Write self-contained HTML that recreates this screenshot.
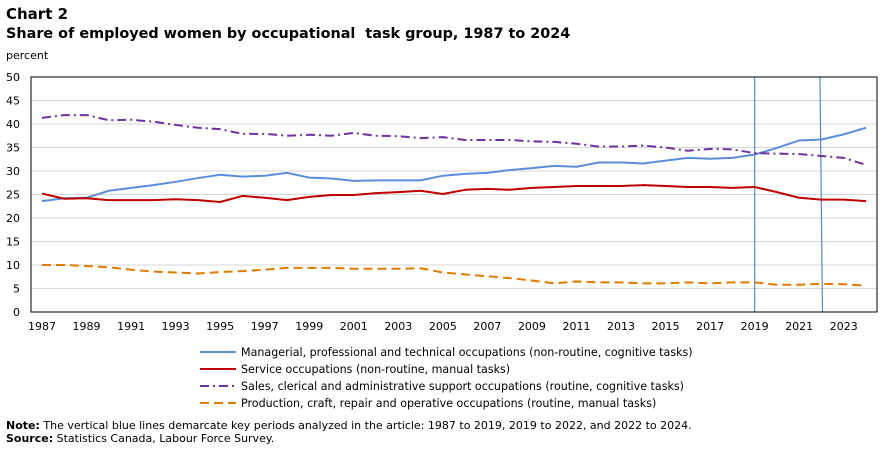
<!DOCTYPE html>
<html><head><meta charset="utf-8"><style>
body{margin:0;background:#fff;font-family:"Liberation Sans","DejaVu Sans",sans-serif;}
svg text{font-family:"DejaVu Sans","Liberation Sans",sans-serif;}
</style></head><body>
<svg id="c" width="889" height="449" xmlns="http://www.w3.org/2000/svg">
<text x="6" y="19" font-size="15" font-weight="bold">Chart 2</text>
<text x="6" y="38" font-size="14.4" font-weight="bold" xml:space="preserve">Share of employed women by occupational  task group, 1987 to 2024</text>
<text x="6" y="59" font-size="11">percent</text>
<g id="grid"></g><g id="marks"></g><g id="axes"></g>
<g id="legend"></g>
<text x="6" y="429" font-size="11"><tspan font-weight="bold">Note:</tspan> The vertical blue lines demarcate key periods analyzed in the article: 1987 to 2019, 2019 to 2022, and 2022 to 2024.</text>
<text x="6" y="442" font-size="11"><tspan font-weight="bold">Source:</tspan> Statistics Canada, Labour Force Survey.</text>
</svg>
<script>
const years=[];for(let y=1987;y<=2024;y++)years.push(y);
const managerial=[23.6,24.2,24.3,25.8,26.4,27.0,27.7,28.5,29.2,28.8,29.0,29.6,28.6,28.4,27.9,28.0,28.0,28.0,29.0,29.4,29.6,30.2,30.6,31.1,30.9,31.8,31.8,31.6,32.2,32.8,32.6,32.8,33.5,34.9,36.5,36.7,37.8,39.2];
const service=[25.2,24.1,24.2,23.8,23.8,23.8,24.0,23.8,23.4,24.7,24.3,23.8,24.5,24.9,24.9,25.3,25.5,25.8,25.1,26.0,26.2,26.0,26.4,26.6,26.8,26.8,26.8,27.0,26.8,26.6,26.6,26.4,26.6,25.5,24.3,23.9,23.9,23.6];
const sales=[41.3,41.9,41.9,40.8,40.9,40.5,39.8,39.2,38.9,37.9,37.9,37.5,37.7,37.5,38.1,37.5,37.4,37.0,37.2,36.6,36.6,36.6,36.3,36.2,35.8,35.2,35.2,35.4,35.0,34.3,34.7,34.6,33.8,33.7,33.6,33.2,32.8,31.3];
const production=[10.0,10.0,9.8,9.5,9.0,8.6,8.4,8.2,8.5,8.7,9.0,9.4,9.4,9.4,9.2,9.2,9.2,9.3,8.4,8.0,7.6,7.2,6.7,6.1,6.5,6.3,6.3,6.1,6.1,6.3,6.1,6.3,6.3,5.8,5.8,6.0,5.9,5.6];
const yTicks=[0,5,10,15,20,25,30,35,40,45,50];
const xTickYears=[1987,1989,1991,1993,1995,1997,1999,2001,2003,2005,2007,2009,2011,2013,2015,2017,2019,2021,2023];
const markerYears=[2019,2022];
const NS="http://www.w3.org/2000/svg";
const L=31,R=877,T=77,B=312,X0=42,X1=866;
const xs=y=>X0+(y-1987)*(X1-X0)/(2024-1987);
const ys=v=>B-(v/50)*(B-T);
function mk(t,a,p){const e=document.createElementNS(NS,t);for(const k in a)e.setAttribute(k,a[k]);p.appendChild(e);return e;}
const grid=document.getElementById('grid'),axes=document.getElementById('axes'),marks=document.getElementById('marks'),leg=document.getElementById('legend');
yTicks.forEach(v=>{
 if(v>0){const g=mk('line',{x1:L,x2:R,y1:ys(v),y2:ys(v),stroke:'#d6d6d6','stroke-width':1},grid);
 
 }
 const t=mk('text',{x:20,y:ys(v)+4,'font-size':11,'text-anchor':'end'},axes);t.textContent=v;
 
 
});
mk('rect',{x:L,y:T,width:R-L,height:B-T,fill:'none',stroke:'#000','stroke-width':1},axes);
xTickYears.forEach(y=>{const t=mk('text',{x:xs(y),y:330,'font-size':11,'text-anchor':'middle'},axes);t.textContent=y;
 
 });
markerYears.forEach((y,i)=>{const l=mk('line',{x1:xs(y)+(i?-1.5:0),x2:xs(y)+(i?1:0),y1:T,y2:B,stroke:'#5b86c9','stroke-width':1.2},marks);
 
 });
const series=[
 {d:managerial,c:'#5b8ed8',da:'',n:'managerial-line',lab:'Managerial, professional and technical occupations (non-routine, cognitive tasks)'},
 {d:service,c:'#c00000',da:'',n:'service-line',lab:'Service occupations (non-routine, manual tasks)'},
 {d:sales,c:'#7030a0',da:'9,4,2,4',n:'sales-line',lab:'Sales, clerical and administrative support occupations (routine, cognitive tasks)'},
 {d:production,c:'#e07b00',da:'9,5',n:'production-line',lab:'Production, craft, repair and operative occupations (routine, manual tasks)'}];
series.forEach((s,i)=>{
 const p=mk('polyline',{points:s.d.map((v,j)=>xs(years[j])+','+ys(v)).join(' '),fill:'none',stroke:s.c,'stroke-width':2,'stroke-dasharray':s.da,'stroke-linejoin':'round'},marks);
 
 
 const yy=352+i*17;
 const g=mk('g',{},leg);
 
 
 mk('line',{x1:200,x2:236,y1:yy,y2:yy,stroke:s.c,'stroke-width':2,'stroke-dasharray':s.da},g);
 const t=mk('text',{x:241,y:yy+4,'font-size':11.1},g);t.textContent=s.lab;
});
</script>
</body></html>
